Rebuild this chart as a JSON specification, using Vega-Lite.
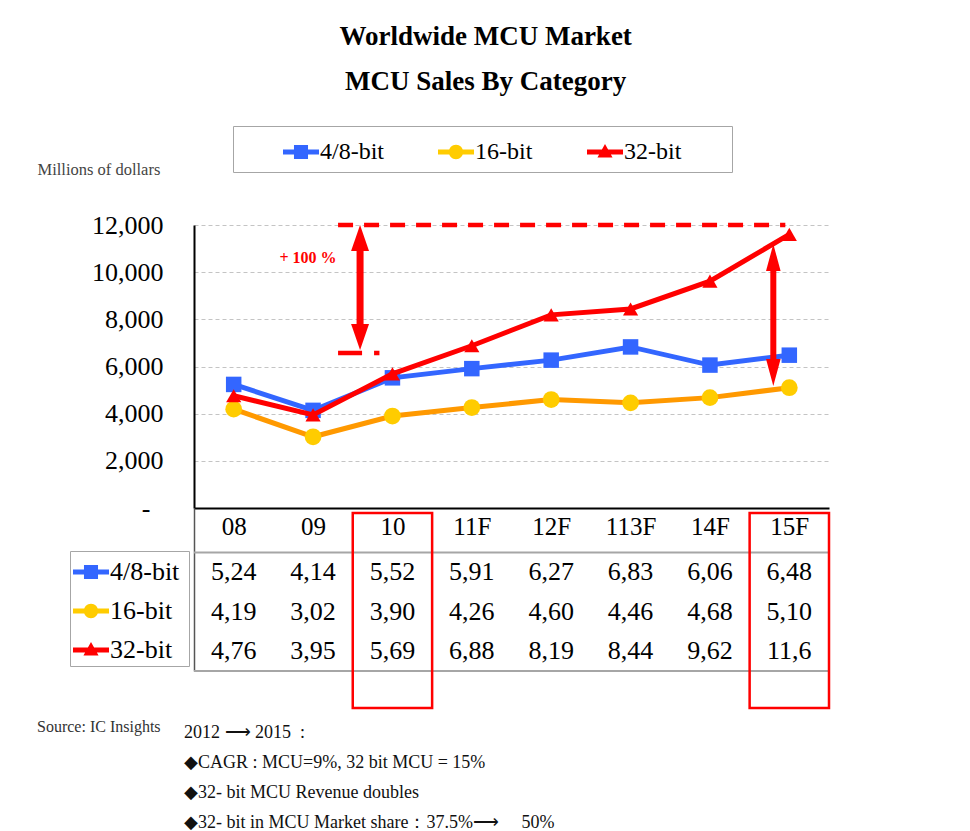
{
  "$schema": "https://vega.github.io/schema/vega-lite/v6.json",
  "background": "white",
  "padding": {"left": 37, "top": 22, "right": 0, "bottom": 0},
  "config": {
    "view": {"stroke": null},
    "font": "Liberation Serif",
    "legend": {"labelFont": "Liberation Serif", "labelColor": "black", "symbolStrokeWidth": 0, "symbolOpacity": 1}
  },
  "title": {
    "text": ["Worldwide MCU Market", "MCU Sales By Category"],
    "font": "Liberation Serif",
    "fontSize": 27,
    "fontWeight": "bold",
    "color": "black",
    "lineHeight": 45,
    "anchor": "middle",
    "offset": 30,
    "dx": 52
  },
  "datasets": {
    "mcu": [
      {"cat": "08", "series": "4/8-bit", "value": 5240, "label": "5,24"},
      {"cat": "09", "series": "4/8-bit", "value": 4140, "label": "4,14"},
      {"cat": "10", "series": "4/8-bit", "value": 5520, "label": "5,52"},
      {"cat": "11F", "series": "4/8-bit", "value": 5910, "label": "5,91"},
      {"cat": "12F", "series": "4/8-bit", "value": 6270, "label": "6,27"},
      {"cat": "113F", "series": "4/8-bit", "value": 6830, "label": "6,83"},
      {"cat": "14F", "series": "4/8-bit", "value": 6060, "label": "6,06"},
      {"cat": "15F", "series": "4/8-bit", "value": 6480, "label": "6,48"},
      {"cat": "08", "series": "16-bit", "value": 4190, "label": "4,19"},
      {"cat": "09", "series": "16-bit", "value": 3020, "label": "3,02"},
      {"cat": "10", "series": "16-bit", "value": 3900, "label": "3,90"},
      {"cat": "11F", "series": "16-bit", "value": 4260, "label": "4,26"},
      {"cat": "12F", "series": "16-bit", "value": 4600, "label": "4,60"},
      {"cat": "113F", "series": "16-bit", "value": 4460, "label": "4,46"},
      {"cat": "14F", "series": "16-bit", "value": 4680, "label": "4,68"},
      {"cat": "15F", "series": "16-bit", "value": 5100, "label": "5,10"},
      {"cat": "08", "series": "32-bit", "value": 4760, "label": "4,76"},
      {"cat": "09", "series": "32-bit", "value": 3950, "label": "3,95"},
      {"cat": "10", "series": "32-bit", "value": 5690, "label": "5,69"},
      {"cat": "11F", "series": "32-bit", "value": 6880, "label": "6,88"},
      {"cat": "12F", "series": "32-bit", "value": 8190, "label": "8,19"},
      {"cat": "113F", "series": "32-bit", "value": 8440, "label": "8,44"},
      {"cat": "14F", "series": "32-bit", "value": 9620, "label": "9,62"},
      {"cat": "15F", "series": "32-bit", "value": 11600, "label": "11,6"}
    ],
    "footer": [
      {"col": "left", "line": 1, "text": "Source: IC Insights"},
      {"col": "right", "line": 1, "text": "2012 ⟶ 2015\u00a0\u00a0:"},
      {"col": "right", "line": 2, "text": "◆CAGR : MCU=9%, 32 bit MCU = 15%"},
      {"col": "right", "line": 3, "text": "◆32- bit MCU Revenue doubles"},
      {"col": "right", "line": 4, "text": "◆32- bit in MCU Market share：37.5%⟶\u00a0\u00a0\u00a0\u00a0\u00a050%"}
    ]
  },
  "spacing": 0,
  "bounds": "flush",
  "resolve": {
    "scale": {"x": "independent", "y": "independent", "shape": "independent", "fill": "independent"},
    "legend": {"shape": "independent", "fill": "independent"}
  },
  "vconcat": [
    {
      "width": 635,
      "height": 283,
      "data": {"name": "mcu"},
      "layer": [
        {
          "mark": {"type": "point", "filled": true, "opacity": 0},
          "encoding": {
            "x": {"field": "cat", "type": "ordinal", "scale": {"type": "point", "padding": 0.5, "domain": ["08","09","10","11F","12F","113F","14F","15F"]},
              "axis": {"title": null, "labelAngle": 0, "labelFont": "Liberation Serif", "labelFontSize": 25, "labelColor": "black", "labelPadding": 6, "ticks": false, "grid": false, "domainColor": "black", "domainWidth": 2}},
            "y": {"field": "value", "type": "quantitative", "scale": {"domain": [0, 12000], "nice": false},
              "axis": {"title": "Millions of dollars", "titleAngle": 0, "titleAlign": "left", "titleBaseline": "middle", "titleX": -157, "titleY": -56, "titleFont": "Liberation Serif", "titleFontSize": 16.5, "titleFontWeight": "normal", "titleColor": "#444",
                "values": [0, 2000, 4000, 6000, 8000, 10000, 12000],
                "labelExpr": "datum.value == 0 ? '-\u00a0\u00a0\u200b' : format(datum.value, ',')",
                "labelFont": "Liberation Serif", "labelFontSize": 26, "labelColor": "black", "labelPadding": 31, "ticks": false,
                "domainColor": "black", "domainWidth": 2, "grid": true, "gridColor": "#c4c4c4", "gridDash": [4, 3], "gridWidth": 1}},
            "shape": {"field": "series", "type": "nominal",
              "scale": {"domain": ["4/8-bit","16-bit","32-bit"], "range": ["M-1,-0.14H1V0.14H-1Z M-0.39,-0.39H0.39V0.39H-0.39Z", "M-1,-0.14H1V0.14H-1Z M-0.4,0A0.4,0.4,0,1,1,0.4,0A0.4,0.4,0,1,1,-0.4,0Z", "M-1,-0.14H1V0.14H-1Z M0,-0.45L0.42,0.3L-0.42,0.3Z"]},
              "legend": {"orient": "none", "legendX": 39, "legendY": -99, "direction": "horizontal", "title": null, "symbolSize": 1296, "symbolStrokeWidth": 0, "symbolOpacity": 1, "symbolOffset": 42, "labelOffset": 1, "labelFontSize": 24, "labelFont": "Liberation Serif", "labelColor": "black", "columnPadding": 12, "padding": 8, "strokeColor": "#a6a6a6", "labelExpr": "datum.label == '32-bit' ? '32-bit\u00a0\u00a0\u00a0\u00a0\u00a0\u00a0\u00a0\u200b' : datum.label"}},
            "fill": {"field": "series", "type": "nominal",
              "scale": {"domain": ["4/8-bit","16-bit","32-bit"], "range": ["#3366FF", "#FFCC00", "#FF0000"]},
              "legend": {"orient": "none", "legendX": 39, "legendY": -99, "direction": "horizontal", "title": null, "symbolSize": 1296, "symbolStrokeWidth": 0, "symbolOpacity": 1, "symbolOffset": 42, "labelOffset": 1, "labelFontSize": 24, "labelFont": "Liberation Serif", "labelColor": "black", "columnPadding": 12, "padding": 8, "strokeColor": "#a6a6a6", "labelExpr": "datum.label == '32-bit' ? '32-bit\u00a0\u00a0\u00a0\u00a0\u00a0\u00a0\u00a0\u200b' : datum.label"}}
          }
        },
        {
          "transform": [{"filter": "datum.series == '4/8-bit'"}],
          "mark": {"type": "line", "color": "#3366FF", "strokeWidth": 5, "point": {"filled": true, "shape": "square", "size": 240, "color": "#3366FF", "opacity": 1}},
          "encoding": {
            "x": {"field": "cat", "type": "ordinal", "scale": {"type": "point", "padding": 0.5, "domain": ["08","09","10","11F","12F","113F","14F","15F"]}},
            "y": {"field": "value", "type": "quantitative", "scale": {"domain": [0, 12000], "nice": false}}
          }
        },
        {
          "transform": [{"filter": "datum.series == '16-bit'"}],
          "mark": {"type": "line", "color": "#FF9900", "strokeWidth": 5, "point": {"filled": true, "shape": "circle", "size": 280, "color": "#FFCC00", "opacity": 1}},
          "encoding": {
            "x": {"field": "cat", "type": "ordinal", "scale": {"type": "point", "padding": 0.5, "domain": ["08","09","10","11F","12F","113F","14F","15F"]}},
            "y": {"field": "value", "type": "quantitative", "scale": {"domain": [0, 12000], "nice": false}}
          }
        },
        {
          "transform": [{"filter": "datum.series == '32-bit'"}],
          "mark": {"type": "line", "color": "#FF0000", "strokeWidth": 5, "point": {"filled": true, "shape": "triangle-up", "size": 230, "color": "#FF0000", "opacity": 1}},
          "encoding": {
            "x": {"field": "cat", "type": "ordinal", "scale": {"type": "point", "padding": 0.5, "domain": ["08","09","10","11F","12F","113F","14F","15F"]}},
            "y": {"field": "value", "type": "quantitative", "scale": {"domain": [0, 12000], "nice": false}}
          }
        },
        {
          "data": {"values": [{"note": "cap"}]},
          "mark": {"type": "rule", "color": "#FF0000", "strokeWidth": 4.5, "strokeDash": [15, 11], "xOffset": 25, "x2Offset": -4},
          "encoding": {
            "x": {"datum": "09", "type": "ordinal"},
            "x2": {"datum": "15F"},
            "y": {"datum": 12000, "type": "quantitative"}
          }
        },
        {
          "data": {"values": [{"note": "base"}]},
          "mark": {"type": "rule", "color": "#FF0000", "strokeWidth": 4.5, "strokeDash": [24, 12], "xOffset": 25, "x2Offset": -13},
          "encoding": {
            "x": {"datum": "09", "type": "ordinal"},
            "x2": {"datum": "10"},
            "y": {"datum": 6570, "type": "quantitative"}
          }
        },
        {
          "data": {"values": [{"note": "shaft1"}]},
          "mark": {"type": "rule", "color": "#FF0000", "strokeWidth": 7, "xOffset": 47},
          "encoding": {
            "x": {"datum": "09", "type": "ordinal"},
            "y": {"datum": 11400, "type": "quantitative"},
            "y2": {"datum": 7300}
          }
        },
        {
          "data": {"values": [{"note": "head1up", "v": 11448}]},
          "mark": {"type": "point", "filled": true, "color": "#FF0000", "opacity": 1, "size": 676, "shape": "M0,-1L0.69,1L-0.69,1Z", "xOffset": 47},
          "encoding": {
            "x": {"datum": "09", "type": "ordinal"},
            "y": {"field": "v", "type": "quantitative"}
          }
        },
        {
          "data": {"values": [{"note": "head1down", "v": 7250}]},
          "mark": {"type": "point", "filled": true, "color": "#FF0000", "opacity": 1, "size": 676, "shape": "M0,1L0.69,-1L-0.69,-1Z", "xOffset": 47},
          "encoding": {
            "x": {"datum": "09", "type": "ordinal"},
            "y": {"field": "v", "type": "quantitative"}
          }
        },
        {
          "data": {"values": [{"note": "shaft2"}]},
          "mark": {"type": "rule", "color": "#FF0000", "strokeWidth": 6, "xOffset": -16},
          "encoding": {
            "x": {"datum": "15F", "type": "ordinal"},
            "y": {"datum": 10650, "type": "quantitative"},
            "y2": {"datum": 5750}
          }
        },
        {
          "data": {"values": [{"note": "head2up", "v": 10620}]},
          "mark": {"type": "point", "filled": true, "color": "#FF0000", "opacity": 1, "size": 729, "shape": "M0,-1L0.54,1L-0.54,1Z", "xOffset": -16},
          "encoding": {
            "x": {"datum": "15F", "type": "ordinal"},
            "y": {"field": "v", "type": "quantitative"}
          }
        },
        {
          "data": {"values": [{"note": "head2down", "v": 5745}]},
          "mark": {"type": "point", "filled": true, "color": "#FF0000", "opacity": 1, "size": 729, "shape": "M0,1L0.54,-1L-0.54,-1Z", "xOffset": -16},
          "encoding": {
            "x": {"datum": "15F", "type": "ordinal"},
            "y": {"field": "v", "type": "quantitative"}
          }
        },
        {
          "data": {"values": [{"note": "+ 100 %", "v": 10600}]},
          "mark": {"type": "text", "color": "#FF0000", "font": "Liberation Serif", "fontSize": 16, "fontWeight": "bold", "align": "center", "baseline": "middle", "dx": -5},
          "encoding": {
            "x": {"datum": "09", "type": "ordinal"},
            "y": {"field": "v", "type": "quantitative"},
            "text": {"field": "note"}
          }
        }
      ]
    },
    {
      "width": 635,
      "height": 200,
      "data": {"name": "mcu"},
      "layer": [
        {
          "mark": {"type": "point", "filled": true, "opacity": 0},
          "encoding": {
            "x": {"field": "cat", "type": "ordinal", "scale": {"type": "band", "paddingInner": 0, "paddingOuter": 0, "domain": ["08","09","10","11F","12F","113F","14F","15F"]}, "axis": null},
            "y": {"field": "series", "type": "nominal", "scale": {"type": "band", "domain": ["4/8-bit","16-bit","32-bit"], "range": [0, 163], "paddingInner": 0, "paddingOuter": 0.5633, "align": 1},
              "axis": {"title": null, "labels": false, "ticks": false, "grid": false, "domain": true, "domainColor": "#555", "domainWidth": 1.5}},
            "shape": {"field": "series", "type": "nominal",
              "scale": {"domain": ["4/8-bit","16-bit","32-bit"], "range": ["M-1,-0.14H1V0.14H-1Z M-0.39,-0.39H0.39V0.39H-0.39Z", "M-1,-0.14H1V0.14H-1Z M-0.4,0A0.4,0.4,0,1,1,0.4,0A0.4,0.4,0,1,1,-0.4,0Z", "M-1,-0.14H1V0.14H-1Z M0,-0.45L0.42,0.3L-0.42,0.3Z"]},
              "legend": {"orient": "none", "legendX": -124, "legendY": 43, "direction": "vertical", "title": null, "symbolSize": 1296, "symbolStrokeWidth": 0, "symbolOpacity": 1, "symbolOffset": 0, "labelOffset": 1, "labelFontSize": 26, "labelFont": "Liberation Serif", "labelColor": "black", "rowPadding": 8, "padding": 3, "strokeColor": "#a6a6a6", "labelExpr": "datum.label == '4/8-bit' ? '4/8-bit\u00a0\u200b' : datum.label"}},
            "fill": {"field": "series", "type": "nominal",
              "scale": {"domain": ["4/8-bit","16-bit","32-bit"], "range": ["#3366FF", "#FFCC00", "#FF0000"]},
              "legend": {"orient": "none", "legendX": -124, "legendY": 43, "direction": "vertical", "title": null, "symbolSize": 1296, "symbolStrokeWidth": 0, "symbolOpacity": 1, "symbolOffset": 0, "labelOffset": 1, "labelFontSize": 26, "labelFont": "Liberation Serif", "labelColor": "black", "rowPadding": 8, "padding": 3, "strokeColor": "#a6a6a6", "labelExpr": "datum.label == '4/8-bit' ? '4/8-bit\u00a0\u200b' : datum.label"}}
          }
        },
        {
          "mark": {"type": "text", "font": "Liberation Serif", "fontSize": 26, "color": "black", "align": "center", "baseline": "middle"},
          "encoding": {
            "x": {"field": "cat", "type": "ordinal", "scale": {"type": "band", "paddingInner": 0, "paddingOuter": 0, "domain": ["08","09","10","11F","12F","113F","14F","15F"]}},
            "y": {"field": "series", "type": "nominal", "scale": {"type": "band", "domain": ["4/8-bit","16-bit","32-bit"], "range": [0, 163], "paddingInner": 0, "paddingOuter": 0.5633, "align": 1}},
            "text": {"field": "label"}
          }
        },
        {
          "data": {"values": [{"edge": "top"}]},
          "mark": {"type": "rule", "color": "#a6a6a6", "strokeWidth": 2},
          "encoding": {
            "y": {"datum": "4/8-bit", "type": "nominal", "bandPosition": 0}
          }
        },
        {
          "data": {"values": [{"edge": "bottom"}]},
          "mark": {"type": "rule", "color": "#a6a6a6", "strokeWidth": 2},
          "encoding": {
            "y": {"datum": "32-bit", "type": "nominal", "bandPosition": 1}
          }
        },
        {
          "data": {"values": [{"cat": "10"}, {"cat": "15F"}]},
          "mark": {"type": "rect", "filled": false, "stroke": "#FF0000", "strokeWidth": 2.5, "yOffset": 5},
          "encoding": {
            "x": {"field": "cat", "type": "ordinal", "scale": {"type": "band", "paddingInner": 0, "paddingOuter": 0, "domain": ["08","09","10","11F","12F","113F","14F","15F"]}}
          }
        }
      ]
    },
    {
      "width": 635,
      "height": 115,
      "data": {"name": "footer"},
      "layer": [
        {
          "transform": [{"filter": "datum.col == 'left'"}],
          "mark": {"type": "text", "align": "left", "baseline": "middle", "font": "Liberation Serif", "fontSize": 16, "color": "#333", "dy": -6},
          "encoding": {
            "x": {"field": "col", "type": "nominal", "scale": {"type": "point", "domain": ["left", "right"], "range": [-157, -10], "padding": 0}, "axis": null},
            "y": {"field": "line", "type": "ordinal", "scale": {"type": "point", "domain": [1, 2, 3, 4], "range": [25, 115], "padding": 0}, "axis": null},
            "text": {"field": "text"}
          }
        },
        {
          "transform": [{"filter": "datum.col == 'right'"}],
          "mark": {"type": "text", "align": "left", "baseline": "middle", "font": "Liberation Serif", "fontSize": 18, "color": "#111"},
          "encoding": {
            "x": {"field": "col", "type": "nominal", "scale": {"type": "point", "domain": ["left", "right"], "range": [-157, -10], "padding": 0}, "axis": null},
            "y": {"field": "line", "type": "ordinal", "scale": {"type": "point", "domain": [1, 2, 3, 4], "range": [25, 115], "padding": 0}, "axis": null},
            "text": {"field": "text"}
          }
        }
      ]
    }
  ]
}
